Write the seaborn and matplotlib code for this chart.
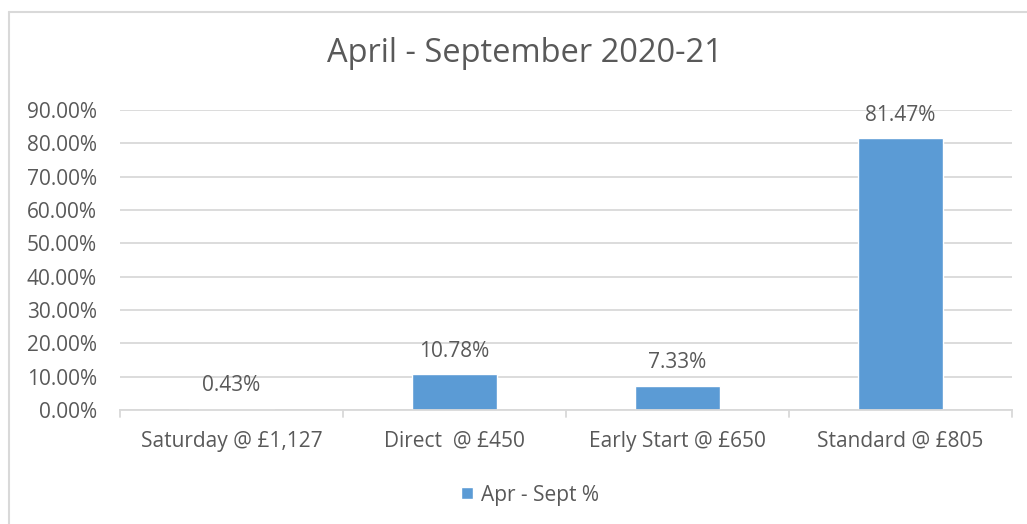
import matplotlib
matplotlib.use("Agg")
import matplotlib.pyplot as plt
import seaborn as sns
import pandas as pd
from matplotlib.patches import Rectangle
from matplotlib.lines import Line2D
from matplotlib.ticker import FuncFormatter

categories = ["Saturday @ £1,127", "Direct  @ £450", "Early Start @ £650", "Standard @ £805"]
values = [0.43, 10.78, 7.33, 81.47]
series_name = "Apr - Sept %"
title = "April - September 2020-21"
yticks = [0, 10, 20, 30, 40, 50, 60, 70, 80, 90]

df = pd.DataFrame({"category": categories, "value": values, "series": series_name})

sns.set_theme(style="white")
FONT = ["Open Sans", "DejaVu Sans"]
plt.rcParams["font.family"] = FONT
TXT = "#595959"
BAR = "#5b9bd5"
GRID = "#d9d9d9"
FS = 15

W, H = 1027, 524
fig = plt.figure(figsize=(W / 100, H / 100), dpi=100)
fig.patch.set_facecolor("white")

# outer chart border (left and top edges visible)
fig.add_artist(Line2D([8.5 / W, 8.5 / W], [0, 1 - 11.5 / H], transform=fig.transFigure,
                      color="#d9d9d9", linewidth=1.5))
fig.add_artist(Line2D([8.5 / W, 1], [1 - 11.5 / H, 1 - 11.5 / H], transform=fig.transFigure,
                      color="#d9d9d9", linewidth=1.5))

ax = fig.add_axes([120 / W, (H - 410) / H, (1012 - 120) / W, 300 / H])
sns.barplot(data=df, x="category", y="value", hue="series", palette=[BAR], width=0.38,
            ax=ax, legend=False, saturation=1)

ax.set_ylim(0, 90)
ax.set_xlim(-0.5, 3.5)
ax.set_yticks(yticks)
ax.yaxis.set_major_formatter(FuncFormatter(lambda v, p: f"{v:.2f}%"))
ax.grid(axis="y", color=GRID, linewidth=1.3)
ax.set_axisbelow(True)
for s in ["left", "right", "top"]:
    ax.spines[s].set_visible(False)
ax.spines["bottom"].set_color(GRID)
ax.spines["bottom"].set_linewidth(1.3)
ax.tick_params(axis="y", length=0, pad=16.5, labelsize=FS, labelcolor=TXT)
ax.tick_params(axis="x", length=0, pad=15, labelsize=FS, labelcolor=TXT)
ax.set_xlabel("")
ax.set_ylabel("")

# category boundary tick marks
for b in [-0.5, 0.5, 1.5, 2.5, 3.5]:
    ax.plot([b, b], [0, -2], color=GRID, linewidth=1.3, clip_on=False)

for i, v in enumerate(values):
    ax.annotate(f"{v:.2f}%", (i, v), xytext=(0, 16.6), textcoords="offset points",
                ha="center", va="center", fontsize=FS, color=TXT)

fig.text(525 / W, 1 - 53 / H, title, ha="center", va="center", fontsize=23.5, color=TXT)

handle = Rectangle((0, 0), 1, 1, facecolor=BAR)
fig.legend([handle], [series_name], loc="center", bbox_to_anchor=(530 / W, 1 - 495 / H),
           frameon=False, fontsize=FS, labelcolor=TXT, handlelength=0.55, handleheight=0.55,
           handletextpad=0.4)

fig.savefig("out.png", dpi=100)
